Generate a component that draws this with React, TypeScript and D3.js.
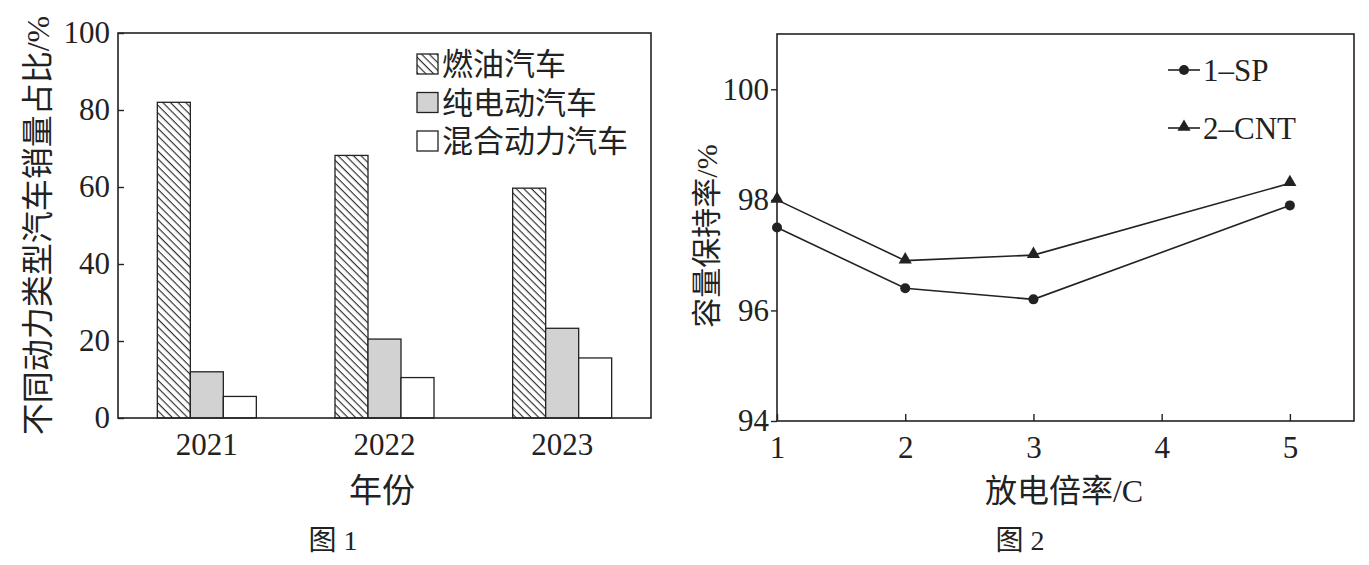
import { useEffect, useRef } from "react"
import * as d3 from "d3"

// Figure 1: sales share by vehicle type
const years = ["2021", "2022", "2023"]
const seriesNames = ["燃油汽车", "纯电动汽车", "混合动力汽车"]
const fuelShare = [82, 68.2, 59.7]
const electricShare = [12, 20.5, 23.3]
const hybridShare = [5.6, 10.5, 15.6]
const shareTicks = [0, 20, 40, 60, 80, 100]

// Figure 2: capacity retention vs discharge rate
const rates = [1, 2, 3, 5]
const spRetention = [97.5, 96.4, 96.2, 97.9]
const cntRetention = [98.0, 96.9, 97.0, 98.3]
const rateTicks = [1, 2, 3, 4, 5]
const retentionTicks = [94, 96, 98, 100]
const lineSeries = ["1–SP", "2–CNT"]

const SERIF = "'Liberation Serif', 'Noto Sans CJK SC', serif"
const CJK = "'Noto Sans CJK SC', sans-serif"

const App = () => {
  const svgRef = useRef<SVGSVGElement | null>(null)

  useEffect(() => {
    if (!svgRef.current) return
    const svg = d3.select(svgRef.current)
    svg.selectAll("*").remove()

    // hatch pattern for the fuel bars
    const defs = svg.append("defs")
    const hatch = defs
      .append("pattern")
      .attr("id", "hatch")
      .attr("patternUnits", "userSpaceOnUse")
      .attr("width", 5.4)
      .attr("height", 5.4)
      .attr("patternTransform", "rotate(45)")
    hatch.append("rect").attr("width", 5.4).attr("height", 5.4).attr("fill", "#fff")
    hatch
      .append("line")
      .attr("x1", 0)
      .attr("y1", 0.6)
      .attr("x2", 5.4)
      .attr("y2", 0.6)
      .attr("stroke", "#222")
      .attr("stroke-width", 1.1)

    const styleAxis = (sel: d3.Selection<SVGGElement, unknown, null, undefined>, size: number) => {
      sel.select(".domain").remove()
      sel.attr("font-family", SERIF).attr("font-size", size)
      sel.selectAll("line").attr("stroke", "#222").attr("stroke-width", 1.4)
      sel.selectAll("text").attr("fill", "#222")
    }

    // ---------- Figure 1 ----------
    const p1 = { left: 118, right: 651, top: 33, bottom: 418 }
    const x0 = d3.scaleBand().domain(years).range([p1.left, p1.right]).padding(0)
    const groupWidth = 99
    const x1 = d3.scaleBand().domain(seriesNames).range([0, groupWidth])
    const y1 = d3.scaleLinear().domain([0, 100]).range([p1.bottom, p1.top])

    const fills = ["url(#hatch)", "#d2d2d2", "#fff"]
    const seriesValues = [fuelShare, electricShare, hybridShare]

    const g1 = svg.append("g")

    seriesNames.forEach((name, si) => {
      g1.append("g")
        .selectAll("rect")
        .data(years)
        .join("rect")
        .attr("x", (d) => x0(d)! + (x0.bandwidth() - groupWidth) / 2 + x1(name)!)
        .attr("y", (_, i) => y1(seriesValues[si][i]))
        .attr("width", x1.bandwidth())
        .attr("height", (_, i) => y1(0) - y1(seriesValues[si][i]))
        .attr("fill", fills[si])
        .attr("stroke", "#222")
        .attr("stroke-width", 1.3)
    })

    g1.append("rect")
      .attr("x", p1.left)
      .attr("y", p1.top)
      .attr("width", p1.right - p1.left)
      .attr("height", p1.bottom - p1.top)
      .attr("fill", "none")
      .attr("stroke", "#222")
      .attr("stroke-width", 1.6)

    g1.append("g")
      .attr("transform", `translate(${p1.left},0)`)
      .call(d3.axisLeft(y1).tickValues(shareTicks).tickSize(-6).tickPadding(8))
      .call((s) => styleAxis(s, 31))

    g1.append("g")
      .attr("transform", `translate(0,${p1.bottom})`)
      .call(d3.axisBottom(x0).tickSize(0).tickPadding(15))
      .call((s) => styleAxis(s, 31))

    // legend
    const legend1 = g1.append("g").attr("transform", "translate(417, 64)")
    seriesNames.forEach((name, i) => {
      const row = legend1.append("g").attr("transform", `translate(0, ${i * 38.5})`)
      row.append("rect")
        .attr("x", 0)
        .attr("y", -10)
        .attr("width", 21)
        .attr("height", 20)
        .attr("fill", fills[i])
        .attr("stroke", "#222")
        .attr("stroke-width", 1.3)
      row.append("text")
        .attr("x", 25)
        .attr("y", 0)
        .attr("dy", "0.36em")
        .attr("font-family", SERIF)
        .attr("font-size", 31)
        .attr("fill", "#222")
        .text(name)
    })

    g1.append("text")
      .attr("transform", `translate(37, ${(p1.top + p1.bottom) / 2}) rotate(-90)`)
      .attr("text-anchor", "middle")
      .attr("dy", "0.36em")
      .attr("font-family", SERIF)
      .attr("font-size", 32)
      .attr("fill", "#222")
      .text("不同动力类型汽车销量占比/%")

    g1.append("text")
      .attr("x", 382)
      .attr("y", 490)
      .attr("text-anchor", "middle")
      .attr("dy", "0.36em")
      .attr("font-family", CJK)
      .attr("font-size", 33)
      .attr("fill", "#222")
      .text("年份")

    g1.append("text")
      .attr("x", 333)
      .attr("y", 540)
      .attr("text-anchor", "middle")
      .attr("dy", "0.36em")
      .attr("font-family", SERIF)
      .attr("font-size", 28)
      .attr("fill", "#222")
      .text("图 1")

    // ---------- Figure 2 ----------
    const p2 = { left: 777, right: 1354, top: 34, bottom: 421 }
    const xr = d3.scaleLinear().domain([1, 5.5]).range([p2.left, p2.right])
    const yr = d3.scaleLinear().domain([94, 101]).range([p2.bottom, p2.top])

    const g2 = svg.append("g")

    g2.append("rect")
      .attr("x", p2.left)
      .attr("y", p2.top)
      .attr("width", p2.right - p2.left)
      .attr("height", p2.bottom - p2.top)
      .attr("fill", "none")
      .attr("stroke", "#222")
      .attr("stroke-width", 1.6)

    g2.append("g")
      .attr("transform", `translate(${p2.left},0)`)
      .call(d3.axisLeft(yr).tickValues(retentionTicks).tickFormat(d3.format("d")).tickSize(6).tickPadding(2))
      .call((s) => styleAxis(s, 31))

    g2.append("g")
      .attr("transform", `translate(0,${p2.bottom})`)
      .call(d3.axisBottom(xr).tickValues(rateTicks).tickFormat(d3.format("d")).tickSize(-7).tickPadding(15))
      .call((s) => styleAxis(s, 31))

    const line = d3
      .line<number>()
      .x((_, i) => xr(rates[i]))
      .y((d) => yr(d))

    const triangle = d3.symbol().type(d3.symbolTriangle).size(75)

    ;[spRetention, cntRetention].forEach((vals, si) => {
      g2.append("path")
        .datum(vals)
        .attr("fill", "none")
        .attr("stroke", "#222")
        .attr("stroke-width", 1.6)
        .attr("d", line)

      if (si === 0) {
        g2.append("g")
          .selectAll("circle")
          .data(vals)
          .join("circle")
          .attr("cx", (_, i) => xr(rates[i]))
          .attr("cy", (d) => yr(d))
          .attr("r", 5)
          .attr("fill", "#222")
      } else {
        g2.append("g")
          .selectAll("path")
          .data(vals)
          .join("path")
          .attr("transform", (d, i) => `translate(${xr(rates[i])},${yr(d) - 1})`)
          .attr("d", triangle)
          .attr("fill", "#222")
      }
    })

    // legend
    lineSeries.forEach((name, i) => {
      const row = g2.append("g").attr("transform", `translate(1168, ${70 + i * 58})`)
      row.append("line")
        .attr("x1", 0)
        .attr("x2", 32)
        .attr("stroke", "#222")
        .attr("stroke-width", 1.6)
      if (i === 0) {
        row.append("circle").attr("cx", 16).attr("r", 5).attr("fill", "#222")
      } else {
        row.append("path").attr("transform", "translate(16,-1)").attr("d", triangle).attr("fill", "#222")
      }
      row.append("text")
        .attr("x", 35)
        .attr("dy", "0.36em")
        .attr("font-family", SERIF)
        .attr("font-size", 31)
        .attr("fill", "#222")
        .text(name)
    })

    g2.append("text")
      .attr("transform", `translate(706, 236) rotate(-90)`)
      .attr("text-anchor", "middle")
      .attr("dy", "0.36em")
      .attr("font-family", SERIF)
      .attr("font-size", 30)
      .attr("fill", "#222")
      .text("容量保持率/%")

    g2.append("text")
      .attr("x", 1064)
      .attr("y", 490)
      .attr("text-anchor", "middle")
      .attr("dy", "0.36em")
      .attr("font-family", SERIF)
      .attr("font-size", 32)
      .attr("fill", "#222")
      .text("放电倍率/C")

    g2.append("text")
      .attr("x", 1020)
      .attr("y", 540)
      .attr("text-anchor", "middle")
      .attr("dy", "0.36em")
      .attr("font-family", SERIF)
      .attr("font-size", 28)
      .attr("fill", "#222")
      .text("图 2")
  }, [])

  return (
    <svg
      ref={svgRef}
      width={1369}
      height={565}
      style={{ position: "absolute", left: 0, top: 0, background: "#fff" }}
    />
  )
}

export default App
